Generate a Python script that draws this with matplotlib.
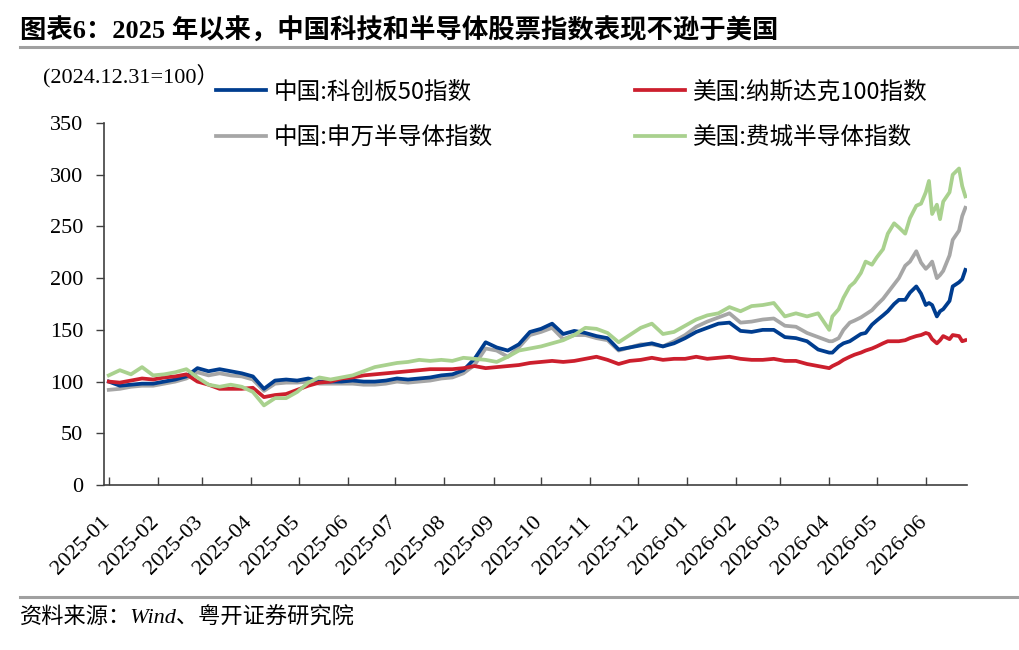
import numpy as np
import pandas as pd
import matplotlib
matplotlib.use("Agg")
import matplotlib.pyplot as plt
import matplotlib.dates as mdates
import matplotlib.transforms as mtransforms
from matplotlib.lines import Line2D

plt.rcParams['font.family'] = ['Liberation Serif', 'Noto Sans CJK SC']
plt.rcParams['axes.unicode_minus'] = False

# weekly readings 2025-01-01 .. 2026-03-31, then every few days to 2026-06-26
weekly_dates = list(pd.date_range('2025-01-01', periods=66, freq='7D'))
late_dates = pd.to_datetime(['2026-04-03', '2026-04-07', '2026-04-10', '2026-04-14', '2026-04-17',
                             '2026-04-21', '2026-04-24', '2026-04-28', '2026-05-01', '2026-05-05',
                             '2026-05-08', '2026-05-12', '2026-05-15', '2026-05-19', '2026-05-22',
                             '2026-05-26', '2026-05-29', '2026-06-01', '2026-06-03', '2026-06-05',
                             '2026-06-08', '2026-06-10', '2026-06-12', '2026-06-16', '2026-06-18',
                             '2026-06-22', '2026-06-24', '2026-06-26'])
dates = weekly_dates + list(late_dates)

star50 = [100, 96, 97, 98, 98, 100, 102, 105, 113, 110, 112, 110, 108, 105, 93, 101, 102, 101, 103, 100, 100,
          100, 101, 100, 100, 101, 103, 102, 103, 104, 106, 107, 111, 122, 138, 133, 130, 136, 148, 151, 156,
          146, 149, 147, 144, 142, 131, 133, 135, 137, 134, 137, 142, 148, 152, 156, 157, 149, 148, 150, 150,
          143, 142, 139, 131, 128,
          128, 134, 137, 139, 142, 146, 147, 155, 159, 164, 168, 175, 179, 179, 186, 192, 185, 174, 176, 174,
          163, 168, 170, 178, 192, 196, 199, 208]
nasdaq100 = [100, 99, 101, 103, 102, 104, 105, 107, 100, 97, 93, 93, 93, 94, 85, 87, 88, 92, 96, 99, 100,
             103, 104, 106, 107, 108, 109, 110, 111, 112, 112, 112, 113, 115, 113, 114, 115, 116, 118, 119, 120,
             119, 120, 122, 124, 121, 117, 120, 121, 123, 121, 122, 122, 124, 122, 123, 124, 122, 121, 121, 122,
             120, 120, 117, 115, 113,
             115, 118, 121, 124, 126, 128, 130, 132, 134, 137, 139, 139, 139, 140, 142, 144, 145, 147, 146, 141,
             137, 140, 144, 141, 145, 144, 139, 140]
sw_semi = [92, 93, 95, 96, 96, 98, 100, 103, 109, 106, 108, 106, 105, 102, 91, 98, 99, 99, 100, 98, 98,
           98, 98, 97, 97, 98, 100, 99, 100, 101, 103, 104, 108, 116, 132, 130, 124, 133, 145, 148, 152,
           141, 145, 145, 142, 140, 130, 133, 136, 136, 134, 139, 145, 153, 158, 162, 166, 157, 158, 160, 161,
           154, 153, 147, 143, 139,
           139, 142, 150, 157, 159, 162, 165, 169, 174, 180, 186, 194, 200, 212, 216, 226, 215, 209, 212, 216,
           200, 203, 207, 222, 237, 246, 260, 268]
sox = [106, 111, 107, 114, 106, 107, 109, 112, 104, 97, 95, 97, 95, 90, 77, 84, 84, 90, 99, 104, 102,
       104, 106, 110, 114, 116, 118, 119, 121, 120, 121, 120, 123, 122, 121, 119, 124, 130, 132, 134, 137,
       140, 145, 152, 151, 147, 138, 145, 152, 156, 146, 148, 154, 160, 164, 166, 172, 168, 173, 174, 176,
       163, 166, 163, 166, 150,
       163, 170, 181, 192, 196, 205, 216, 213, 220, 228, 243, 253, 249, 243, 258, 270, 272, 283, 294, 262,
       271, 257, 274, 283, 300, 306, 289, 279]

labels = ['中国:科创板50指数', '美国:纳斯达克100指数', '中国:申万半导体指数', '美国:费城半导体指数']
tick_months = pd.date_range('2025-01-01', '2026-06-01', freq='MS')

fig = plt.figure(figsize=(10.2, 6.5), dpi=100)
ax = fig.add_axes([0.102, 0.2538, 0.846, 0.557])

l1, = ax.plot(dates, star50, color='#003d8f', lw=2.7, zorder=3)
l2, = ax.plot(dates, nasdaq100, color='#cc1f2d', lw=2.7, zorder=4)
l3, = ax.plot(dates, sw_semi, color='#a6a6a6', lw=2.7, zorder=2)
l4, = ax.plot(dates, sox, color='#a9d18e', lw=2.7, zorder=5)

ax.set_ylim(0, 350)
ax.set_yticks(np.arange(0, 351, 50))
ax.set_xlim(pd.Timestamp('2024-12-29'), pd.Timestamp('2026-06-27'))
ax.set_xticks(tick_months)
ax.xaxis.set_major_formatter(mdates.DateFormatter('%Y-%m'))

for s in ['top', 'right']:
    ax.spines[s].set_visible(False)
for s in ['left', 'bottom']:
    ax.spines[s].set_color('#404040')
    ax.spines[s].set_linewidth(1.2)

ax.tick_params(axis='y', direction='out', length=6, width=1, pad=9, labelsize=16, color='#404040')
ax.tick_params(axis='x', direction='in', length=6, width=1, pad=20, labelsize=16, color='#404040')

offset = mtransforms.ScaledTranslation(5 / 100, 0, fig.dpi_scale_trans)
for lab in ax.get_xticklabels():
    lab.set_rotation(45)
    lab.set_ha('right')
    lab.set_va('top')
    lab.set_transform(lab.get_transform() + offset)

# matplotlib fills legend columns first, so order as (row1 col1, row2 col1, row1 col2, row2 col2)
fig.legend([l1, l3, l2, l4], [labels[0], labels[2], labels[1], labels[3]], ncol=2, loc='upper left',
           bbox_to_anchor=(0.212, 0.876), frameon=False, borderpad=0, borderaxespad=0,
           handlelength=2.1, handletextpad=0.35, columnspacing=6.0, labelspacing=0.95,
           prop={'family': ['Noto Sans CJK SC'], 'size': 17})

fig.text(0.042, 0.884, '(2024.12.31=100）', fontsize=16, va='center', ha='left',
         family=['Liberation Serif', 'Noto Sans CJK SC'])

fig.text(0.02, 0.953, '图表6：2025 年以来，中国科技和半导体股票指数表现不逊于美国',
         fontsize=19, fontweight='bold', va='center', ha='left',
         family=['Liberation Serif', 'Noto Sans CJK SC'])

fig.add_artist(Line2D([0.02, 1.0], [0.928, 0.928], color='#a0a0a0', lw=2.2, transform=fig.transFigure))
fig.add_artist(Line2D([0.02, 1.0], [0.0815, 0.0815], color='#a0a0a0', lw=2.2, transform=fig.transFigure))

fig.text(0.02, 0.049, '资料来源：Wind、粤开证券研究院', fontsize=16, style='italic',
         va='center', ha='left', family=['Liberation Serif', 'Noto Sans CJK SC'])

fig.savefig('out.png', dpi=100)
